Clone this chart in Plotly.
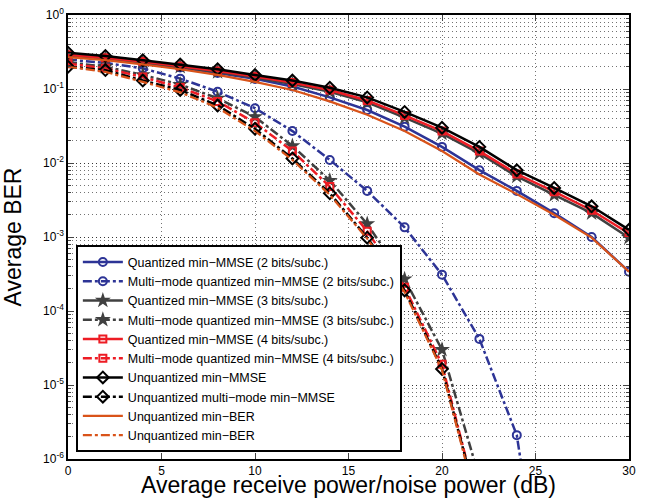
import plotly.graph_objects as go

snr_db = [0, 2, 4, 6, 8, 10, 12, 14, 16, 18, 20, 22, 24, 26, 28, 30]

q2_solid = [0.28, 0.255, 0.225, 0.195, 0.165, 0.137, 0.108, 0.077, 0.052, 0.031, 0.0165, 0.0080, 0.0042, 0.0021, 0.0010, 0.00034]
q2_multi = [0.25, 0.225, 0.19, 0.138, 0.092, 0.055, 0.027, 0.011, 0.0042, 0.00135, 0.00031, 4.2e-5, 2.1e-6, 1e-9]
q3_solid = [0.28, 0.26, 0.23, 0.2, 0.17, 0.143, 0.117, 0.092, 0.066, 0.041, 0.025, 0.0135, 0.0066, 0.0037, 0.0021, 0.00098]
q3_multi = [0.23, 0.2, 0.155, 0.115, 0.075, 0.042, 0.017, 0.0058, 0.0015, 0.00027, 3e-5, 5.5e-7]
q4_solid = [0.29, 0.265, 0.235, 0.205, 0.175, 0.148, 0.122, 0.097, 0.070, 0.044, 0.027, 0.0145, 0.0071, 0.0041, 0.0023, 0.00112]
q4_multi = [0.22, 0.19, 0.145, 0.105, 0.068, 0.035, 0.0145, 0.0048, 0.0012, 0.00021, 1.9e-5, 2e-7]
unq_mmse = [0.31, 0.28, 0.245, 0.215, 0.185, 0.155, 0.13, 0.104, 0.077, 0.049, 0.030, 0.0165, 0.0080, 0.0046, 0.0026, 0.00125]
unq_mmse_multi = [0.2, 0.18, 0.13, 0.097, 0.06, 0.029, 0.0115, 0.0039, 0.00098, 0.00019, 1.65e-5, 2e-7]
unq_ber = [0.27, 0.245, 0.215, 0.185, 0.155, 0.125, 0.097, 0.068, 0.045, 0.027, 0.0145, 0.0070, 0.0038, 0.0020, 0.00098, 0.00034]
unq_ber_multi = [0.2, 0.17, 0.125, 0.09, 0.056, 0.027, 0.011, 0.0037, 0.00095, 0.00018, 1.6e-5, 1.8e-7]

names = [
    "Quantized min\u2212MMSE (2 bits/subc.)",
    "Multi\u2212mode quantized min\u2212MMSE (2 bits/subc.)",
    "Quantized min\u2212MMSE (3 bits/subc.)",
    "Multi\u2212mode quantized min\u2212MMSE (3 bits/subc.)",
    "Quantized min\u2212MMSE (4 bits/subc.)",
    "Multi\u2212mode quantized min\u2212MMSE (4 bits/subc.)",
    "Unquantized min\u2212MMSE",
    "Unquantized multi\u2212mode min\u2212MMSE",
    "Unquantized min\u2212BER",
    "Unquantized min\u2212BER",
]

BLUE = "rgb(45,52,150)"
GRAY = "rgb(64,64,64)"
RED = "rgb(237,28,36)"
BLACK = "rgb(0,0,0)"
ORANGE = "rgb(217,83,25)"

series = [
    (q2_solid, BLUE, "solid", "circle-open", 8, 2),
    (q2_multi, BLUE, "dashdot", "circle-open", 8, 2),
    (q3_solid, GRAY, "solid", "star", 12, 0),
    (q3_multi, GRAY, "dashdot", "star", 12, 0),
    (q4_solid, RED, "solid", "square-open", 7, 2),
    (q4_multi, RED, "dashdot", "square-open", 7, 2),
    (unq_mmse, BLACK, "solid", "diamond-open", 9, 2),
    (unq_mmse_multi, BLACK, "dashdot", "diamond-open", 9, 2),
    (unq_ber, ORANGE, "solid", None, 0, 0),
    (unq_ber_multi, ORANGE, "dashdot", None, 0, 0),
]

fig = go.Figure()
for (vals, col, dash, sym, msize, mlw), name in zip(series, names):
    x = snr_db[:len(vals)]
    if sym is None:
        fig.add_trace(go.Scatter(x=x, y=vals, name=name, mode="lines",
                                 line=dict(color=col, width=2.2, dash=dash)))
    else:
        fig.add_trace(go.Scatter(x=x, y=vals, name=name, mode="lines+markers",
                                 line=dict(color=col, width=2.5, dash=dash),
                                 marker=dict(symbol=sym, size=msize, color=col,
                                             line=dict(width=mlw, color=col))))

decades = [-6, -5, -4, -3, -2, -1, 0]
ytickvals = [10.0 ** d for d in decades]
yticktext = ["10<sup>%d</sup>" % d for d in decades]

grid = dict(gridcolor="rgba(0,0,0,0.55)", griddash="1px,3px", gridwidth=1)

fig.update_layout(
    width=646, height=498,
    margin=dict(l=68, r=17, t=15, b=39),
    paper_bgcolor="white", plot_bgcolor="white",
    font=dict(family="Liberation Sans, Arial, sans-serif", size=12, color="black"),
    showlegend=True,
    legend=dict(x=0.014, y=0.015, xanchor="left", yanchor="bottom",
                bgcolor="white", bordercolor="black", borderwidth=2,
                font=dict(size=12.5), itemwidth=40, tracegroupgap=0),
    xaxis=dict(range=[0, 30], dtick=5, tick0=0, showline=True, linecolor="black",
               linewidth=1.5, mirror="ticks", ticks="inside", ticklen=6,
               showgrid=True, **grid, zeroline=False, automargin=False,
               title=dict(text="Average receive power/noise power (dB)",
                          font=dict(size=23))),
    yaxis=dict(type="log", range=[-6, 0], tickvals=ytickvals, ticktext=yticktext,
               showline=True, linecolor="black", linewidth=1.5, mirror="ticks",
               ticks="inside", ticklen=6, showgrid=True, **grid, zeroline=False,
               automargin=False,
               minor=dict(dtick="D1", showgrid=True, ticks="inside", ticklen=3,
                          **grid),
               title=dict(text="Average BER", font=dict(size=23))),
)

fig.write_html("out.html", config={"displayModeBar": False},
               post_script="document.body.style.margin='0';document.body.style.overflow='hidden';")
